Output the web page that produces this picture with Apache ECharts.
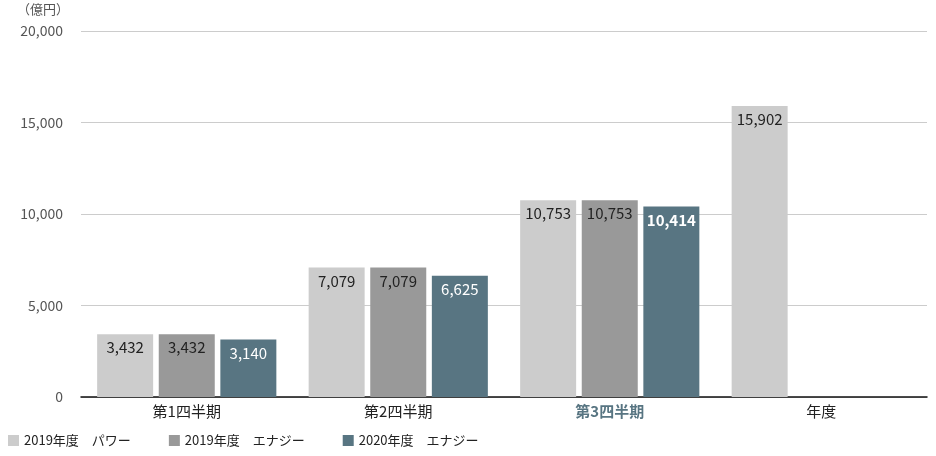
<!DOCTYPE html>
<html>
<head>
<meta charset="utf-8">
<script src="https://cdn.jsdelivr.net/npm/echarts@6/dist/echarts.min.js"></script>
<style>
  html, body { margin: 0; padding: 0; background: #fff; }
  #main { width: 936px; height: 456px; }
</style>
</head>
<body>
<div id="main"></div>
<script>
var categories = ['第1四半期', '第2四半期', '第3四半期', '年度'];
var seriesNames = ['2019年度　パワー', '2019年度　エナジー', '2020年度　エナジー'];
var power2019 = [3432, 7079, 10753, 15902];
var energy2019 = [3432, 7079, 10753, null];
var energy2020 = [3140, 6625, 10414, null];
var yTicks = [0, 5000, 10000, 15000, 20000];

var FONT = '"Noto Sans CJK JP", "Noto Sans", sans-serif';
var colors = ['#cccccc', '#999999', '#587582'];
var labelColors = ['#222222', '#222222', '#ffffff'];

function fmt(v) {
    return Number(v).toLocaleString('en-US');
}

function makeSeries(idx, values) {
    return {
        name : seriesNames[idx],
        type : 'bar',
        barWidth : 56,
        barGap : '10%',
        itemStyle : { color : colors[idx] },
        label : {
            show : true,
            position : 'insideTop',
            distance : 6,
            color : labelColors[idx],
            fontFamily : FONT,
            fontSize : 15,
            formatter : function (p) { return fmt(p.value); }
        },
        data : values.map(function (v, i) {
            // 第3四半期 の 2020年度 は太字
            if (idx === 2 && i === 2) {
                return { value : v, label : { fontWeight : 'bold', fontSize : 15 } };
            }
            return v;
        })
    };
}

var chart = echarts.init(document.getElementById('main'));
var option = {
    animation : false,
    textStyle : { fontFamily : FONT },
    grid : {
        left : 81,
        right : 9,
        top : 31,
        bottom : 59
    },
    legend : {
        left : 3,
        bottom : 4,
        itemWidth : 11,
        itemHeight : 11,
        itemGap : 38,
        icon : 'rect',
        textStyle : { fontFamily : FONT, fontSize : 13, color : '#222' },
        data : seriesNames
    },
    xAxis : {
        type : 'category',
        data : categories.map(function (c, i) {
            if (i === 2) {
                return { value : c, textStyle : { fontWeight : 'bold', color : '#587582' } };
            }
            return c;
        }),
        axisLine : { lineStyle : { color : '#111', width : 1.5 } },
        axisTick : { show : false },
        axisLabel : { fontFamily : FONT, fontSize : 15, color : '#222', margin : 7 }
    },
    yAxis : {
        type : 'value',
        min : yTicks[0],
        max : yTicks[yTicks.length - 1],
        interval : 5000,
        name : '（億円）',
        nameLocation : 'end',
        nameGap : 15,
        nameTextStyle : { fontFamily : FONT, fontSize : 13, color : '#555', align : 'right', padding : [0, 12, 0, 0] },
        axisLine : { show : false },
        axisTick : { show : false },
        splitLine : { lineStyle : { color : '#cccccc' } },
        axisLabel : {
            fontFamily : FONT,
            fontSize : 14,
            color : '#555',
            margin : 18,
            formatter : function (v) { return fmt(v); }
        }
    },
    series : [
        makeSeries(0, power2019),
        makeSeries(1, energy2019),
        makeSeries(2, energy2020)
    ]
};
chart.setOption(option);
</script>
</body>
</html>
